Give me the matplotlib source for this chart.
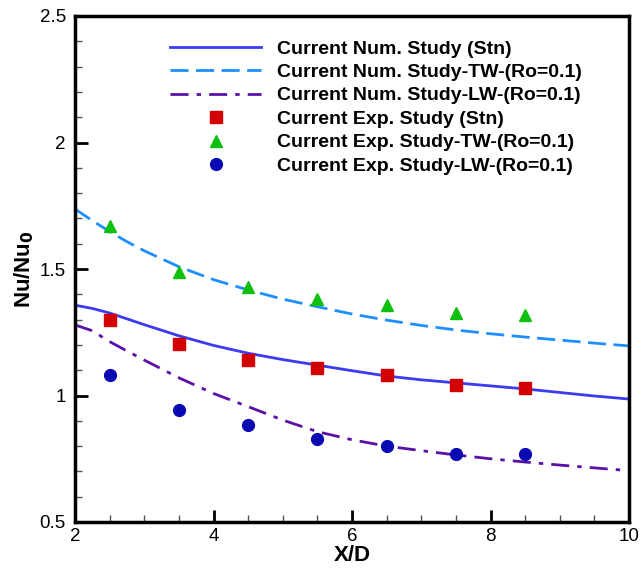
import matplotlib
matplotlib.use("Agg")
import matplotlib.pyplot as plt
from matplotlib.ticker import MultipleLocator

plt.rcParams['font.family'] = ['Liberation Sans', 'DejaVu Sans']

# Numerical curves
x_num = [2.0, 2.25, 2.5, 2.75, 3.0, 3.5, 4.0, 4.5, 5.0, 5.5, 6.0, 6.5, 7.0, 7.5, 8.0, 8.5, 9.0, 9.5, 10.0]
nu_stn = [1.357, 1.344, 1.326, 1.303, 1.280, 1.236, 1.198, 1.167, 1.142, 1.120, 1.098, 1.077, 1.062, 1.050, 1.038, 1.026, 1.012, 0.998, 0.986]
nu_tw = [1.737, 1.691, 1.648, 1.608, 1.572, 1.509, 1.458, 1.417, 1.381, 1.351, 1.322, 1.298, 1.277, 1.259, 1.244, 1.231, 1.219, 1.207, 1.196]
nu_lw = [1.279, 1.256, 1.213, 1.176, 1.140, 1.070, 1.008, 0.956, 0.903, 0.857, 0.825, 0.800, 0.782, 0.765, 0.750, 0.737, 0.725, 0.714, 0.703]

# Experimental points
x_exp = [2.5, 3.5, 4.5, 5.5, 6.5, 7.5, 8.5]
exp_stn = [1.298, 1.204, 1.140, 1.109, 1.081, 1.042, 1.030]
exp_tw = [1.670, 1.488, 1.430, 1.380, 1.358, 1.326, 1.318]
exp_lw = [1.081, 0.943, 0.883, 0.828, 0.800, 0.769, 0.769]

labels = [
    "Current Num. Study (Stn)",
    "Current Num. Study-TW-(Ro=0.1)",
    "Current Num. Study-LW-(Ro=0.1)",
    "Current Exp. Study (Stn)",
    "Current Exp. Study-TW-(Ro=0.1)",
    "Current Exp. Study-LW-(Ro=0.1)",
]

fig = plt.figure(figsize=(6.4, 5.71), dpi=100)
ax = fig.add_axes([75/640, 49/571, (629-75)/640, (522-16)/571])

ax.plot(x_num, nu_stn, '-', color='#3b3bf2', lw=2, label=labels[0])
ax.plot(x_num, nu_tw, color='#1e8fff', lw=2, dashes=(6.5, 2.7), label=labels[1])
ax.plot(x_num, nu_lw, color='#5a12a6', lw=2, dashes=(6.5, 2.9, 1.6, 2.9), label=labels[2])
ax.plot(x_exp, exp_stn, 's', color='#d20000', ms=8, ls='none', label=labels[3])
ax.plot(x_exp, exp_tw, '^', color='#10c010', ms=8.5, ls='none', label=labels[4])
ax.plot(x_exp, exp_lw, 'o', color='#0a0ab4', ms=8.5, ls='none', label=labels[5])

ax.set_xlim(2, 10)
ax.set_ylim(0.5, 2.5)
ax.xaxis.set_major_locator(MultipleLocator(2))
ax.xaxis.set_minor_locator(MultipleLocator(0.5))
ax.yaxis.set_major_locator(MultipleLocator(0.5))
ax.yaxis.set_minor_locator(MultipleLocator(0.1))
ax.set_yticks([0.5, 1.0, 1.5, 2.0, 2.5])
ax.set_yticklabels(['0.5', '1', '1.5', '2', '2.5'])
ax.tick_params(which='both', direction='in', top=False, right=False, labelsize=13.5)
ax.tick_params(which='major', length=9, width=2)
ax.tick_params(which='minor', length=5, width=1, color='#555555')
ax.tick_params(axis='x', pad=4)
ax.tick_params(axis='y', pad=6.5)
for s in ax.spines.values():
    s.set_linewidth(2.5)

ax.set_xlabel('X/D', fontsize=16, fontweight='bold', labelpad=0)
ax.set_ylabel(r'Nu/Nu$_\mathbf{0}$', fontsize=16, fontweight='bold', labelpad=3)

leg = ax.legend(loc='upper left', bbox_to_anchor=(170/640, 1 - 40/571),
                bbox_transform=fig.transFigure, frameon=False,
                prop={'weight': 'bold', 'size': 14}, handlelength=4.7,
                labelspacing=0.3, handletextpad=0.8, borderaxespad=0, borderpad=0)

fig.savefig('out.png', dpi=100)
